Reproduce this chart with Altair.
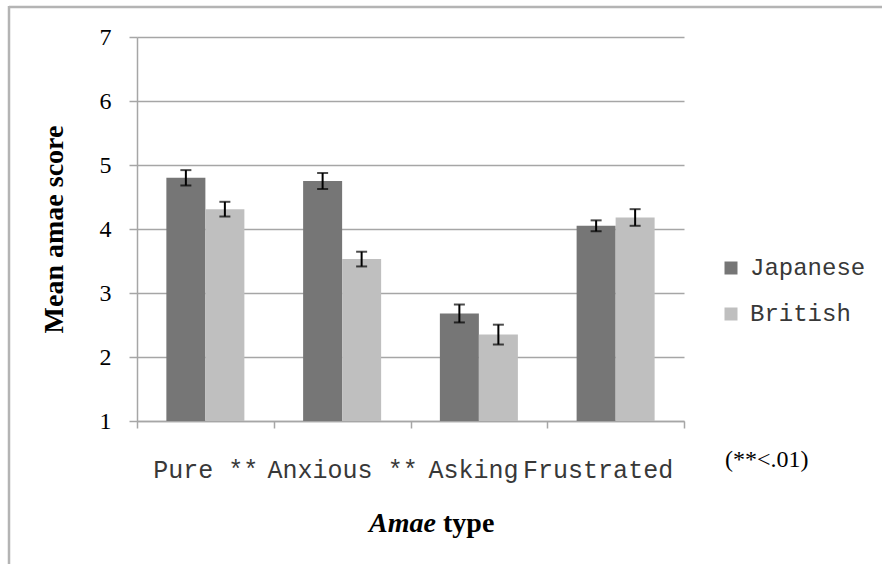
import altair as alt
import pandas as pd

# Amae types and the two national groups
categories = ["Pure **", "Anxious **", "Asking", "Frustrated"]
groups = ["Japanese", "British"]

# Mean amae scores and standard errors per group
japanese_mean = [4.80, 4.75, 2.68, 4.05]
japanese_se = [0.12, 0.125, 0.14, 0.085]
british_mean = [4.31, 3.53, 2.35, 4.18]
british_se = [0.115, 0.115, 0.155, 0.13]

y_ticks = [1, 2, 3, 4, 5, 6, 7]
y_floor = 1
note_text = ["(**<.01)"]

rows = []
for i, cat in enumerate(categories):
    for g, means, ses in (("Japanese", japanese_mean, japanese_se),
                          ("British", british_mean, british_se)):
        m, s = means[i], ses[i]
        rows.append({"type": cat, "group": g, "mean": m, "lo": m - s, "hi": m + s})
df = pd.DataFrame(rows)

GRID = "#a6a6a6"
LABEL_FONT = "Liberation Mono"
SERIF = "Liberation Serif"

x_scale = alt.Scale(paddingInner=0, paddingOuter=0)
xoff_scale = alt.Scale(paddingInner=0, paddingOuter=0.753)
y_scale = alt.Scale(domain=[1, 7], nice=False, zero=False)

x_axis = alt.Axis(
    title=None,
    domainColor=GRID,
    domainWidth=1.5,
    tickColor=GRID,
    tickWidth=1.5,
    tickSize=7,
    tickBand="extent",
    grid=False,
    labelFont=LABEL_FONT,
    labelFontSize=25,
    labelColor="#383838",
    labelAngle=0,
    labelBaseline="alphabetic",
    labelPadding=49,
    labelOffset={
        "condition": [
            {"test": "datum.value === 'Asking'", "value": -6},
            {"test": "datum.value === 'Frustrated'", "value": -18},
        ],
        "value": 0,
    },
)
y_axis = alt.Axis(
    values=y_ticks,
    format="d",
    title="Mean amae score",
    titleFont=SERIF,
    titleFontSize=28,
    titleFontWeight="bold",
    titleColor="#000000",
    titleAngle=270,
    titleAlign="center",
    titleBaseline="alphabetic",
    titleX=-75,
    titleY=192,
    domainColor=GRID,
    domainWidth=1.5,
    tickColor=GRID,
    tickWidth=1.5,
    tickSize=8,
    gridColor=GRID,
    gridWidth=1.5,
    labelFont=SERIF,
    labelFontSize=24,
    labelColor="#000000",
    labelPadding=18,
)

x_enc = alt.X("type:N", sort=categories, scale=x_scale, axis=x_axis)
xoff_enc = alt.XOffset("group:N", sort=groups, scale=xoff_scale)

bars = alt.Chart(df).mark_bar().encode(
    x=x_enc,
    xOffset=xoff_enc,
    y=alt.Y("mean:Q", scale=y_scale, axis=y_axis),
    y2=alt.datum(y_floor),
    color=alt.Color(
        "group:N",
        sort=groups,
        scale=alt.Scale(domain=groups, range=["#767676", "#bfbfbf"]),
        legend=alt.Legend(
            title=None,
            orient="none",
            legendX=582,
            legendY=219,
            symbolType="square",
            symbolSize=169,
            symbolStrokeWidth=0,
            labelFont=LABEL_FONT,
            labelFontSize=24,
            labelColor="#383838",
            labelOffset=7,
            rowPadding=22,
        ),
    ),
)

whisker = alt.Chart(df).mark_rule(color="#000000", strokeWidth=2).encode(
    x=x_enc, xOffset=xoff_enc,
    y=alt.Y("lo:Q", scale=y_scale, axis=y_axis),
    y2="hi:Q",
)
cap_lo = alt.Chart(df).mark_tick(color="#000000", thickness=2, size=11).encode(
    x=x_enc, xOffset=xoff_enc,
    y=alt.Y("lo:Q", scale=y_scale, axis=y_axis),
)
cap_hi = alt.Chart(df).mark_tick(color="#000000", thickness=2, size=11).encode(
    x=x_enc, xOffset=xoff_enc,
    y=alt.Y("hi:Q", scale=y_scale, axis=y_axis),
)

# Significance note beside the category labels
note = alt.Chart(pd.DataFrame({"t": note_text})).mark_text(
    font=SERIF, fontSize=24, align="left", baseline="alphabetic", color="#000000"
).encode(text="t:N", x=alt.value(588), y=alt.value(430))

# Axis title in two pieces: italic "Amae" and upright "type"
title_df = pd.DataFrame({"a": ["Amae"], "b": ["type"]})
title_a = alt.Chart(title_df).mark_text(
    font=SERIF, fontSize=28, fontWeight="bold", fontStyle="italic",
    align="right", baseline="alphabetic", color="#000000"
).encode(text="a:N", x=alt.value(299), y=alt.value(495))
title_b = alt.Chart(title_df).mark_text(
    font=SERIF, fontSize=28, fontWeight="bold",
    align="left", baseline="alphabetic", color="#000000"
).encode(text="b:N", x=alt.value(306), y=alt.value(495))

# Outer frame lines (top and left)
frame_df = pd.DataFrame({"k": [0]})
frame_top = alt.Chart(frame_df).mark_rule(color="#b4b4b4", strokeWidth=2.5).encode(
    x=alt.value(-128), x2=alt.value(760), y=alt.value(-30)
)
frame_left = alt.Chart(frame_df).mark_rule(color="#b4b4b4", strokeWidth=2.5).encode(
    x=alt.value(-128), y=alt.value(-31), y2=alt.value(540)
)

chart = alt.layer(
    bars, whisker, cap_lo, cap_hi, note, title_a, title_b, frame_top, frame_left
).properties(
    width=547,
    height=384,
    background="#ffffff",
    autosize=alt.AutoSizeParams(type="none"),
    padding={"left": 137, "top": 37, "right": 198, "bottom": 143},
).configure_view(stroke=None)

chart.save("out.html", embed_options={"renderer": "svg", "actions": False})
